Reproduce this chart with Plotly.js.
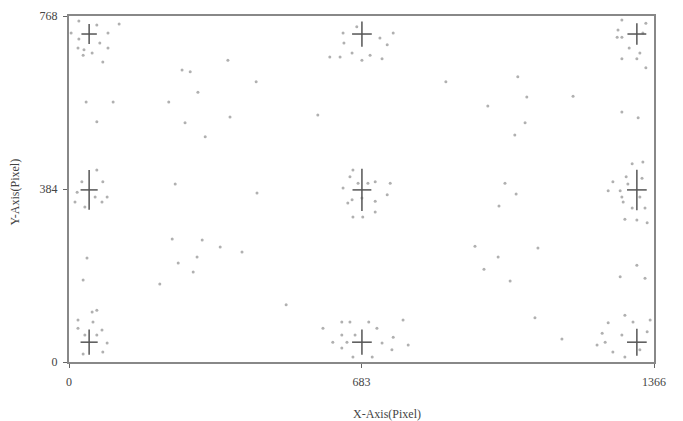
<!DOCTYPE html>
<html>
<head>
<meta charset="utf-8">
<script src="https://cdn.plot.ly/plotly-3.0.1.min.js"></script>
<style>html,body{margin:0;padding:0;background:#fff;}#chart{width:683px;height:421px;}</style>
</head>
<body>
<div id="chart"></div>
<script>
// Scattered gaze / click samples (pixel coordinates)
const pointsX = [
  117,5,23,65,91,23,21,35,54,72,91,33,79,264,283,301,40,103,233,65,271,371,437,376,318,248,439,241,311,353,404,299,255,290,212,507,
  880,1048,1069,1177,978,1065,1041,1018,1044,1004,948,1002,1095,969,1030,1088,
  640,672,726,743,757,642,661,633,609,684,703,731,581,
  1291,1347,1282,1280,1291,1340,1308,1333,1291,1326,1347,1291,1329,
  65,30,79,19,61,89,14,77,37,42,
  663,656,675,698,715,750,640,743,684,715,651,661,715,663,686,
  1340,1315,1301,1338,1270,1259,1287,1305,1291,1333,1294,1345,1315,1298,1326,1350,
  65,54,21,56,21,77,37,65,89,79,33,33,
  637,656,700,780,593,719,637,668,757,616,649,731,792,754,663,708,637,
  1326,1287,1345,1298,1259,1317,1357,1245,1291,1350,1252,1233,1270,1298,1333,1151
];
const pointsY = [
  750,730,757,748,730,717,697,693,686,708,697,681,666,648,644,599,577,577,577,533,531,670,622,544,500,395,375,273,271,255,244,233,220,200,173,127,
  622,633,588,590,568,531,504,397,373,346,257,233,253,206,180,98,
  730,744,719,704,730,708,686,677,677,670,681,673,548,
  759,752,737,721,721,730,697,686,673,673,653,555,542,
  426,400,400,377,366,366,355,355,344,231,
  426,411,397,397,400,397,386,371,364,357,353,360,333,322,322,
  444,440,411,408,400,380,380,395,366,366,355,342,342,317,315,309,
  115,111,93,89,75,71,60,60,42,22,18,182,
  89,89,89,93,75,75,60,60,55,44,44,42,38,27,11,11,31,
  215,189,186,104,87,89,93,64,60,67,44,38,22,11,27,51
];
// Calibration targets: mean position and spread
const targetX = [47,684,1326,47,684,1326,47,684,1326];
const targetY = [728,728,728,382,382,382,44,44,44];
const spreadX = [18,23,22,20,22,23,20,23,23];
const spreadY = [22,28,24,44,47,45,28,28,30];
const xTicks = [0,683,1366];
const yTicks = [0,384,768];
const xTitle = 'X-Axis(Pixel)';
const yTitle = 'Y-Axis(Pixel)';

const font = {family:'Liberation Serif, serif', size:12, color:'#444'};

const traces = [
  {type:'scatter', mode:'markers', x:pointsX, y:pointsY,
   marker:{size:3, color:'#b0b0b0'}, hoverinfo:'x+y'},
  {type:'scatter', mode:'markers', x:targetX, y:targetY,
   marker:{size:1, color:'rgba(0,0,0,0)'},
   error_x:{type:'data', array:spreadX, visible:true, color:'#555', thickness:1.5, width:0},
   error_y:{type:'data', array:spreadY, visible:true, color:'#555', thickness:1.5, width:0},
   hoverinfo:'x+y'}
];

const layout = {
  width:683, height:421,
  margin:{l:69, r:29, t:16, b:59},
  paper_bgcolor:'#fff', plot_bgcolor:'#fff',
  showlegend:false,
  font:font,
  xaxis:{range:[0,1366], tickvals:xTicks, ticktext:xTicks.map(String),
    showgrid:false, zeroline:false, showline:true, mirror:true,
    linecolor:'#888', linewidth:2, ticks:'outside', ticklen:4, tickcolor:'#666',
    ticklabelstandoff:4, tickfont:font, automargin:false},
  yaxis:{range:[0,768], tickvals:yTicks, ticktext:yTicks.map(String),
    showgrid:false, zeroline:false, showline:true, mirror:true,
    linecolor:'#888', linewidth:2, ticks:'outside', ticklen:4, tickcolor:'#666',
    ticklabelstandoff:3, tickfont:font, automargin:false},
  annotations:[
    {text:xTitle, xref:'paper', yref:'paper', x:0.544, y:-0.150,
     xanchor:'center', yanchor:'middle', showarrow:false, font:font},
    {text:yTitle, xref:'paper', yref:'paper', x:-0.0923, y:0.49, textangle:-90,
     xanchor:'center', yanchor:'middle', showarrow:false, font:font}
  ]
};

Plotly.newPlot('chart', traces, layout, {displayModeBar:false, staticPlot:true});
</script>
</body>
</html>
